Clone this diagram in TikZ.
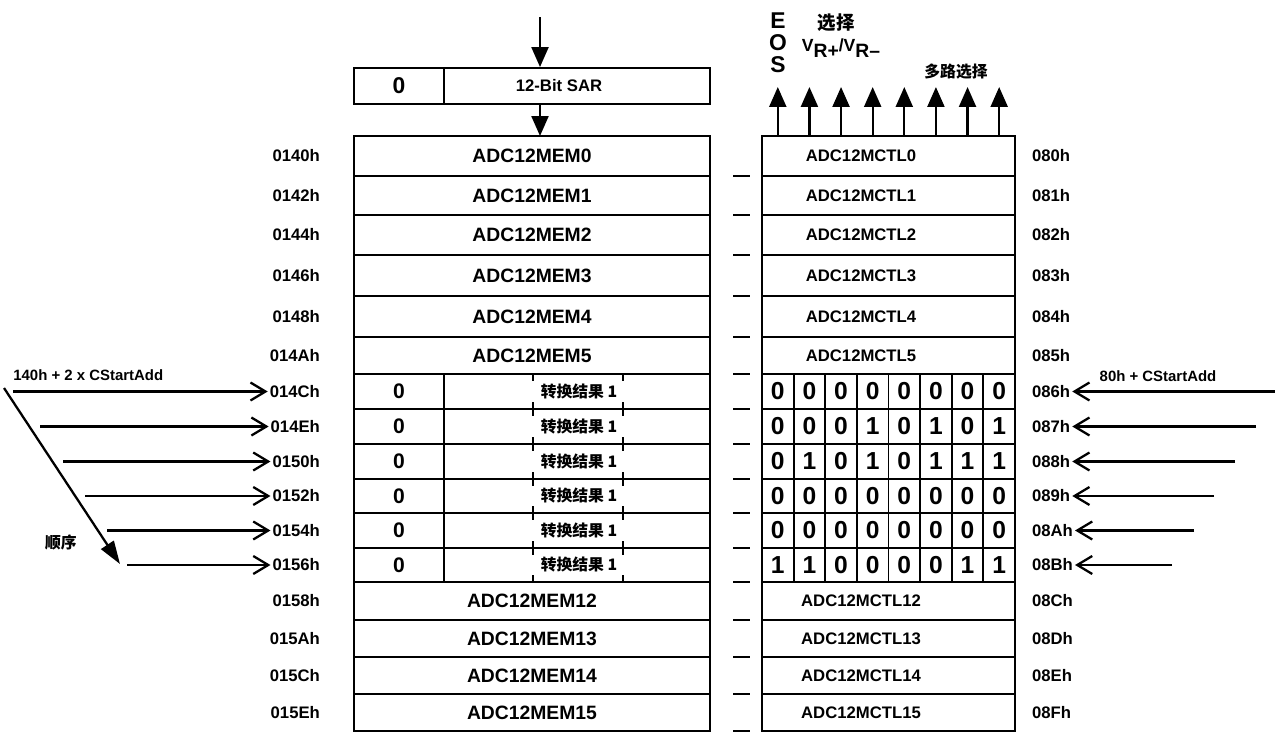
\documentclass[tikz,border=0pt]{standalone}
\usepackage{fontspec}
\setmainfont{Liberation Sans}
\newfontfamily\cjk{Noto Sans CJK SC}
\usetikzlibrary{arrows.meta}

\tikzset{
  regline/.style={line width=1.1pt},
  addr/.style={font=\bfseries\fontsize{9.5}{10}\selectfont, inner sep=1pt},
  memname/.style={font=\bfseries\fontsize{11}{12}\selectfont},
  ctlname/.style={font=\bfseries\fontsize{9.5}{10}\selectfont},
  bitval/.style={font=\bfseries\fontsize{14}{14}\selectfont, inner sep=0pt},
  zeroval/.style={font=\bfseries\fontsize{12}{12}\selectfont, inner sep=0pt},
  zhtext/.style={font=\cjk\bfseries\fontsize{9}{10}\selectfont, inner sep=0pt},
  note/.style={font=\bfseries\fontsize{8.5}{9}\selectfont, inner sep=0pt},
  bigletter/.style={font=\bfseries\fontsize{13}{13}\selectfont, inner sep=0pt},
  solidtip/.style={line width=1.3pt, -{Triangle[length=0.4cm, width=0.34cm]}},
  openbarb/.style={line width=1.3pt, -{Straight Barb[length=0.3cm, width=0.36cm, line width=1.3pt]}},
}

\begin{document}
\begin{tikzpicture}[x=0.02cm, y=-0.02cm]
  \useasboundingbox (0,0) rectangle (1275,734);

  % SAR register
  \node[draw, regline, minimum width=7.12cm, minimum height=0.72cm, inner sep=0pt] (sar) at (532,86) {};
  \draw[regline] (444,68) -- (444,104);
  \node[zeroval, font=\bfseries\fontsize{13}{13}\selectfont] (sarzero) at (399,86) {0};
  \node[ctlname] (sartext) at (559,86) {12-Bit SAR};
  \coordinate (sarin) at (540,17);
  \coordinate (memtop) at (540,136);
  \draw[solidtip] (sarin) -- (sar.north -| sarin);
  \draw[solidtip] (sar.south -| sarin) -- (memtop);

  % ordinary registers
  \foreach \r/\t/\b/\la/\ra in {0/136/176/0140h/080h, 1/176/215/0142h/081h,
      2/215/255/0144h/082h, 3/255/296/0146h/083h, 4/296/337/0148h/084h,
      5/337/374/014Ah/085h, 12/582/620/0158h/08Ch, 13/620/657/015Ah/08Dh,
      14/657/694/015Ch/08Eh, 15/694/731/015Eh/08Fh} {
    \draw[regline] (354,\t) rectangle (710,\b);
    \draw[regline] (762,\t) rectangle (1015,\b);
    \node[memname] (mem\r) at (532,{(\t+\b)/2}) {ADC12MEM\r};
    \node[ctlname] (ctl\r) at (861,{(\t+\b)/2}) {ADC12MCTL\r};
    \node[addr, anchor=east] (la\r) at (322,{(\t+\b)/2}) {\la};
    \node[addr, anchor=west] (ra\r) at (1030,{(\t+\b)/2}) {\ra};
    \draw[regline] (733,\b) -- (750,\b);
  }

  % sequence of conversions
  \foreach \r/\t/\b/\la/\ra/\ls/\re/\bits in {
      6/374/409/014Ch/086h/13/1275/{0,0,0,0,0,0,0,0},
      7/409/444/014Eh/087h/40/1256/{0,0,0,1,0,1,0,1},
      8/444/479/0150h/088h/63/1235/{0,1,0,1,0,1,1,1},
      9/479/513/0152h/089h/85/1214/{0,0,0,0,0,0,0,0},
      10/513/548/0154h/08Ah/107/1194/{0,0,0,0,0,0,0,0},
      11/548/582/0156h/08Bh/127/1172/{1,1,0,0,0,0,1,1}} {
    \draw[regline] (354,\t) rectangle (710,\b);
    \draw[regline] (444,\t) -- (444,\b);
    \draw[regline] (533,\t) -- +(0,7) (533,\b) -- +(0,-7)
                   (623,\t) -- +(0,7) (623,\b) -- +(0,-7);
    \node[zeroval] (res\r) at (399,{(\t+\b)/2}) {0};
    \node[zhtext] (conv\r) at (579,{(\t+\b)/2}) {转换结果 1};
    \draw[regline] (762,\t) rectangle (1015,\b);
    \foreach \bit [count=\c from 0] in \bits {
      \draw[regline] ({762+\c*31.625},\t) -- ({762+\c*31.625},\b);
      \node[bitval] (bit\r-\c) at ({777.8+\c*31.625},{(\t+\b)/2}) {\bit};
    }
    \node[addr, anchor=east] (la\r) at (322,{(\t+\b)/2}) {\la};
    \node[addr, anchor=west] (ra\r) at (1030,{(\t+\b)/2}) {\ra};
    \draw[regline] (733,\b) -- (750,\b);
    \coordinate (lin\r) at (\ls,{(\t+\b)/2});
    \coordinate (rin\r) at (\re,{(\t+\b)/2});
    \draw[openbarb] (lin\r) -- (la\r.west);
    \draw[openbarb] (rin\r) -- (ra\r.east);
  }

  % control bits going up
  \foreach \c in {0,...,7} {
    \coordinate (up\c) at ({777.8+\c*31.625},136);
    \coordinate (upend\c) at ({777.8+\c*31.625},87);
    \draw[solidtip] (up\c) -- (upend\c);
  }
  \node[bigletter] (eose) at (778,21) {E};
  \node[bigletter] (eoso) at (778,43) {O};
  \node[bigletter] (eoss) at (778,65) {S};
  \node[zhtext, font=\cjk\bfseries\fontsize{10.5}{11}\selectfont] (refsel) at (836,23) {选择};
  \node[inner sep=0pt, font=\bfseries] (vref) at (841,48)
    {{\fontsize{10}{10}\selectfont V}\raisebox{-3pt}{\fontsize{11}{11}\selectfont R+}/{\fontsize{10}{10}\selectfont V}\raisebox{-3pt}{\fontsize{11}{11}\selectfont R\textendash}};
  \node[zhtext] (muxsel) at (956,72) {多路选择};

  % start address notes
  \node[note, anchor=west] (leftnote) at (13,375) {140h + 2 x CStartAdd};
  \node[note] (rightnote) at (1158,376) {80h + CStartAdd};
  \coordinate (seqstart) at (4,388);
  \coordinate (seqend) at (120,564);
  \draw[line width=1.3pt, -{Triangle[length=0.46cm, width=0.3cm]}] (seqstart) -- (seqend);
  \node[zhtext] (seqlabel) at (61,542) {顺序};
\end{tikzpicture}
\end{document}
